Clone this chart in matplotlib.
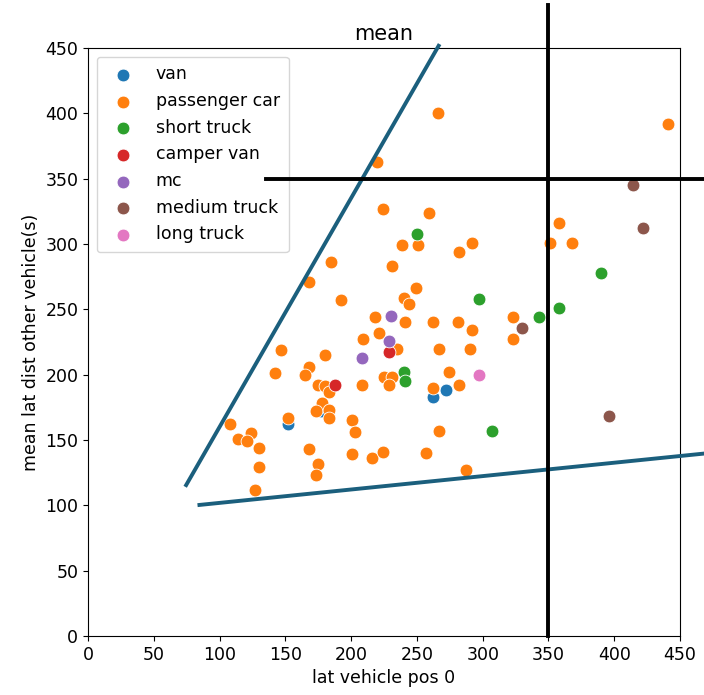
import matplotlib
matplotlib.use("Agg")
import matplotlib.pyplot as plt

plt.rcParams['font.family'] = ['DejaVu Sans']
plt.rcParams['font.size'] = 12.5

categories = ["van", "passenger car", "short truck", "camper van", "mc", "medium truck", "long truck"]
colors = ["#1f77b4", "#ff7f0e", "#2ca02c", "#d62728", "#9467bd", "#8c564b", "#e377c2"]

van_x = [152, 177, 262, 272]
van_y = [162, 172, 183, 188]

car_x = [266, 441, 220, 224, 259, 239, 251, 282, 292, 358, 351, 368, 185, 231, 168, 249,
         240, 244, 192, 218, 241, 262, 281, 292, 323, 323, 221, 209, 235, 267, 290, 147,
         180, 142, 168, 165, 175, 180, 183, 208, 225, 231, 229, 274, 262, 282, 178, 173,
         183, 183, 152, 201, 203, 267, 108, 114, 124, 121, 130, 130, 127, 168, 175, 173,
         201, 216, 224, 257, 287]
car_y = [400, 392, 363, 327, 324, 299, 299, 294, 301, 316, 301, 301, 286, 283, 271, 266,
         259, 254, 257, 244, 240, 240, 240, 234, 244, 227, 232, 227, 220, 220, 220, 219,
         215, 201, 206, 200, 192, 191, 187, 192, 198, 198, 192, 202, 190, 192, 178, 172,
         173, 167, 167, 165, 156, 157, 162, 151, 155, 149, 144, 129, 112, 143, 132, 123,
         139, 136, 141, 140, 127]

short_x = [250, 297, 343, 358, 390, 240, 241, 307]
short_y = [308, 258, 244, 251, 278, 202, 195, 157]

camper_x = [188, 229]
camper_y = [192, 217]

mc_x = [230, 229, 208]
mc_y = [245, 226, 213]

medium_x = [414, 422, 330, 396]
medium_y = [345, 312, 236, 168]

long_x = [297]
long_y = [200]

series_x = [van_x, car_x, short_x, camper_x, mc_x, medium_x, long_x]
series_y = [van_y, car_y, short_y, camper_y, mc_y, medium_y, long_y]

# reference lines
black_v_x = [350, 350]
black_v_y = [0, 483]
black_h_x = [135, 470]
black_h_y = [350, 350]
teal1_x = [74.6, 266.5]
teal1_y = [115.5, 451.7]
teal2_x = [84.7, 470]
teal2_y = [100.3, 139.8]

xticks = [0, 50, 100, 150, 200, 250, 300, 350, 400, 450]
yticks = [0, 50, 100, 150, 200, 250, 300, 350, 400, 450]

fig = plt.figure(figsize=(7.04, 6.95), dpi=100)
ax = fig.add_axes([0.125, 0.0849, 0.841, 0.846])

for cat, col, xs, ys in zip(categories, colors, series_x, series_y):
    ax.scatter(xs, ys, s=85, color=col, edgecolor='white', linewidth=0.6, label=cat, zorder=3)

teal = "#1b5f7d"
ax.plot(teal1_x, teal1_y, color=teal, lw=2.8, clip_on=False, zorder=6)
ax.plot(teal2_x, teal2_y, color=teal, lw=2.8, clip_on=False, zorder=6)
ax.plot(black_v_x, black_v_y, color='black', lw=2.8, clip_on=False, zorder=6)
ax.plot(black_h_x, black_h_y, color='black', lw=2.8, clip_on=False, zorder=6)

ax.set_xlim(0, 450)
ax.set_ylim(0, 450)
ax.set_xticks(xticks)
ax.set_yticks(yticks)
ax.set_xlabel("lat vehicle pos 0")
ax.set_ylabel("mean lat dist other vehicle(s)")
ax.set_title("mean")

ax.legend(loc='upper left', scatterpoints=1, handletextpad=0.9, borderpad=0.5,
          labelspacing=0.5)

fig.savefig("out.png", dpi=100)
